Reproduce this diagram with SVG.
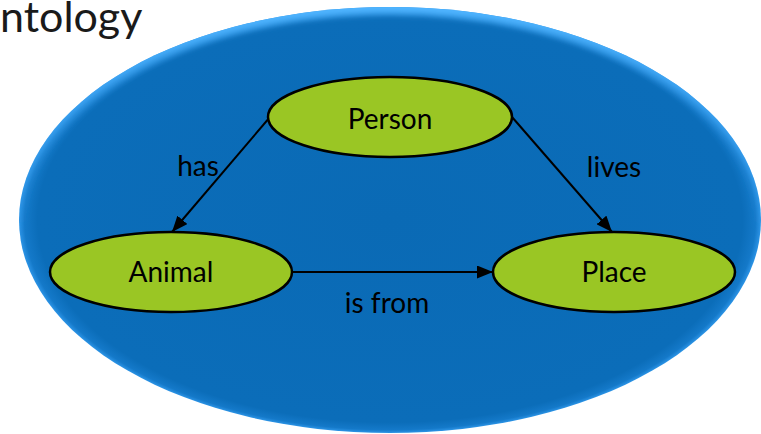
<svg xmlns="http://www.w3.org/2000/svg" width="761" height="434" viewBox="0 0 761 434">
  <style>
    .node { fill: #9AC624; stroke: #000; stroke-width: 2.5; }
    .label { font-family: Lato, "Liberation Sans", sans-serif; font-size: 28px; fill: #000; text-anchor: middle; }
    .edge { stroke: #000; stroke-width: 2; fill: none; marker-end: url(#arrow); }
    .title { font-family: Lato, "Liberation Sans", sans-serif; font-size: 43px; fill: #1a1a1a; }
  </style>
  <defs>
    <radialGradient id="domainFill" cx="50%" cy="50%" r="50%">
      <stop offset="0" stop-color="#0A6AB5"/>
      <stop offset="0.95" stop-color="#0B6DB9"/>
      <stop offset="0.985" stop-color="#1479C9"/>
      <stop offset="1" stop-color="#2C94E6"/>
    </radialGradient>
    <!-- bevel light: bright along the upper rim, fading out towards the middle -->
    <linearGradient id="rimLight" gradientUnits="userSpaceOnUse" x1="0" y1="7" x2="0" y2="230">
      <stop offset="0" stop-color="#4FB4FF" stop-opacity="1"/>
      <stop offset="0.5" stop-color="#3FA6F5" stop-opacity="0.6"/>
      <stop offset="1" stop-color="#3FA6F5" stop-opacity="0"/>
    </linearGradient>
    <clipPath id="domainClip">
      <ellipse cx="390" cy="220" rx="371" ry="213"/>
    </clipPath>
    <filter id="soften" x="-5%" y="-5%" width="110%" height="110%">
      <feGaussianBlur stdDeviation="3"/>
    </filter>
    <marker id="arrow" viewBox="0 0 16 13" refX="16" refY="6.5" markerWidth="16" markerHeight="13" markerUnits="userSpaceOnUse" orient="auto">
      <path d="M0,0 L16,6.5 L0,13 z" fill="#000"/>
    </marker>
  </defs>

  <!-- title, left part clipped by the page edge -->
  <text class="title" x="0" y="32">ntology</text>

  <!-- ontology domain -->
  <g id="domain">
    <ellipse cx="390" cy="220" rx="371" ry="213" fill="url(#domainFill)"/>
    <g clip-path="url(#domainClip)">
      <ellipse cx="390" cy="220" rx="371" ry="213" fill="none" stroke="url(#rimLight)" stroke-width="14" filter="url(#soften)"/>
    </g>
  </g>

  <!-- connectors -->
  <g id="edges">
    <line class="edge" x1="270" y1="117" x2="172" y2="232"/>
    <line class="edge" x1="512" y1="117" x2="612" y2="232"/>
    <line class="edge" x1="293" y1="272" x2="493" y2="272"/>
    <text class="label" x="198" y="176">has</text>
    <text class="label" x="614" y="177">lives</text>
    <text class="label" x="387" y="313">is from</text>
  </g>

  <g id="person">
    <ellipse class="node" cx="390" cy="117" rx="122" ry="40"/>
    <text class="label" x="390" y="129">Person</text>
  </g>
  <g id="animal">
    <ellipse class="node" cx="171" cy="272" rx="121" ry="40"/>
    <text class="label" x="171" y="282">Animal</text>
  </g>
  <g id="place">
    <ellipse class="node" cx="614" cy="272" rx="121" ry="40"/>
    <text class="label" x="614" y="282">Place</text>
  </g>
</svg>
